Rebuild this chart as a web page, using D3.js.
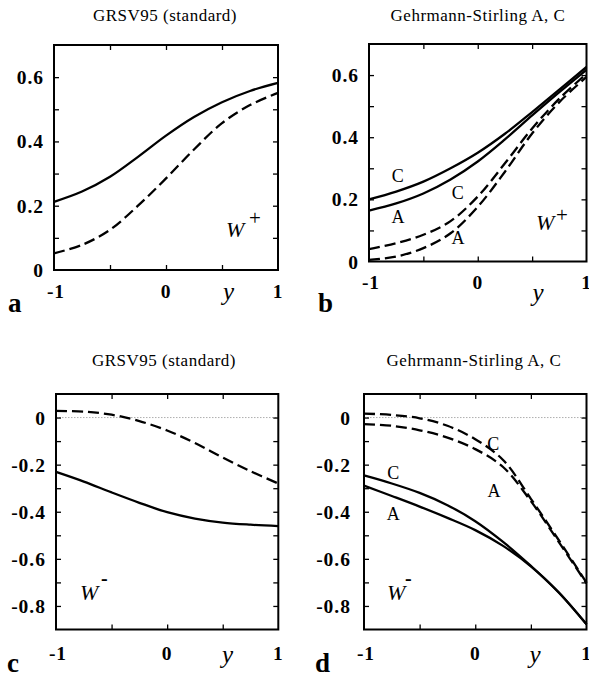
<!DOCTYPE html>
<html>
<head>
<meta charset="utf-8">
<script src="https://cdn.jsdelivr.net/npm/d3@7"></script>
<style>
  html, body { margin: 0; padding: 0; background: #fff; }
  svg { display: block; }
</style>
</head>
<body>
<svg id="chart" width="589" height="677"></svg>
<script>
// ---------------- data ----------------
const yValues = [-1, -0.75, -0.5, -0.25, 0, 0.25, 0.5, 0.75, 1];

// panel a : GRSV95 (standard), W+
const aSolid  = [0.212, 0.244, 0.290, 0.352, 0.418, 0.476, 0.522, 0.557, 0.582];
const aDashed = [0.052, 0.078, 0.125, 0.200, 0.285, 0.375, 0.457, 0.513, 0.551];

// panel b : Gehrmann-Stirling A, C, W+
const bSolidC  = [0.200, 0.225, 0.257, 0.300, 0.350, 0.411, 0.481, 0.553, 0.626];
const bSolidA  = [0.164, 0.187, 0.219, 0.264, 0.322, 0.393, 0.470, 0.545, 0.617];
const bDashedC = [0.040, 0.059, 0.086, 0.130, 0.209, 0.316, 0.428, 0.524, 0.604];
const bDashedA = [0.005, 0.016, 0.043, 0.091, 0.176, 0.289, 0.412, 0.513, 0.594];

// panel c : GRSV95 (standard), W-
const cSolid  = [-0.231, -0.272, -0.318, -0.362, -0.402, -0.429, -0.446, -0.455, -0.461];
const cDashed = [0.028, 0.025, 0.012, -0.015, -0.055, -0.108, -0.170, -0.228, -0.280];

// panel d : Gehrmann-Stirling A, C, W-
const dDashedC = [0.017, 0.011, -0.003, -0.035, -0.092, -0.180, -0.345, -0.520, -0.701];
const dDashedA = [-0.028, -0.035, -0.054, -0.085, -0.134, -0.210, -0.355, -0.528, -0.704];
const dSolidC  = [-0.246, -0.280, -0.320, -0.372, -0.440, -0.528, -0.630, -0.742, -0.878];
const dSolidA  = [-0.289, -0.333, -0.378, -0.426, -0.478, -0.545, -0.632, -0.743, -0.878];

const titles = ["GRSV95 (standard)", "Gehrmann-Stirling A, C", "GRSV95 (standard)", "Gehrmann-Stirling A, C"];
const panelLetters = ["a", "b", "c", "d"];
const xTickLabels = [-1, 0, 1];
const yTickLabelsPlus = [0, 0.2, 0.4, 0.6];
const yTickLabelsMinus = [0, -0.2, -0.4, -0.6, -0.8];

// ---------------- layout ----------------
const panels = [
  { title: titles[0], letter: panelLetters[0], x0: 54, x1: 278, y0: 45, y1: 270, ydom: [0, 0.7],
    yTicks: d3.range(0, 7.5).map(i => i / 10), yLabels: yTickLabelsPlus,
    titleY: 20.5, titleX: 165, xLabY: 298, yVarX: 228.5, yVarY: 300, letterX: 8, letterY: 312, yLabGap: 10,
    series: [{ v: aSolid }, { v: aDashed, dash: true }],
    boson: { x: 226, y: 237, sup: "+", supX: 249, supY: 225 },
    tags: [] },
  { title: titles[1], letter: panelLetters[1], x0: 369, x1: 586.5, y0: 44, y1: 261.5, ydom: [0, 0.7],
    yTicks: d3.range(0, 7.5).map(i => i / 10), yLabels: yTickLabelsPlus,
    titleY: 20.5, titleX: 478, xLabY: 289, yVarX: 538, yVarY: 301, letterX: 318, letterY: 312, yLabGap: 10,
    series: [{ v: bSolidC }, { v: bSolidA }, { v: bDashedC, dash: true }, { v: bDashedA, dash: true }],
    boson: { x: 536, y: 230, sup: "+", supX: 556, supY: 222 },
    tags: [{ t: "C", x: 397.7, y: 181.5 }, { t: "A", x: 398, y: 222.5 }, { t: "C", x: 457.7, y: 199 }, { t: "A", x: 458, y: 244 }] },
  { title: titles[2], letter: panelLetters[2], x0: 56, x1: 278.3, y0: 394, y1: 629.5, ydom: [-0.9, 0.1],
    yTicks: d3.range(-9, 1.5).map(i => i / 10), yLabels: yTickLabelsMinus,
    titleY: 366, titleX: 164, xLabY: 660, yVarX: 227.5, yVarY: 663, letterX: 7, letterY: 672, yLabGap: 10,
    series: [{ v: cSolid }, { v: cDashed, dash: true }],
    boson: { x: 80, y: 600, sup: "-", supX: 101, supY: 585 }, zero: true,
    tags: [] },
  { title: titles[3], letter: panelLetters[3], x0: 364, x1: 586.5, y0: 394, y1: 629.5, ydom: [-0.9, 0.1],
    yTicks: d3.range(-9, 1.5).map(i => i / 10), yLabels: yTickLabelsMinus,
    titleY: 366, titleX: 474, xLabY: 660, yVarX: 535, yVarY: 663, letterX: 315, letterY: 672, yLabGap: 13,
    series: [{ v: dDashedC, dash: true }, { v: dDashedA, dash: true }, { v: dSolidC }, { v: dSolidA }],
    boson: { x: 387, y: 600, sup: "-", supX: 405, supY: 585 }, zero: true,
    tags: [{ t: "C", x: 393.3, y: 478.5 }, { t: "A", x: 393.3, y: 520 }, { t: "C", x: 493.3, y: 450 }, { t: "A", x: 494, y: 496.5 }] }
];

const svg = d3.select("#chart");
const fmt = v => (Math.abs(v) < 1e-9 ? "0" : String(+v.toFixed(1)).replace("\u2212", "-"));
const serif = "'Liberation Serif', 'Times New Roman', Times, serif";

panels.forEach(p => {
  const g = svg.append("g");
  const x = d3.scaleLinear().domain([-1, 1]).range([p.x0, p.x1]);
  const y = d3.scaleLinear().domain(p.ydom).range([p.y1, p.y0]);
  const tl = 5;

  // zero line
  if (p.zero) {
    g.append("line")
      .attr("x1", p.x0).attr("x2", p.x1).attr("y1", y(0)).attr("y2", y(0))
      .attr("stroke", "#999").attr("stroke-width", 0.8).attr("stroke-dasharray", "1.5,1.5");
  }

  // curves
  const line = d3.line().x((d, i) => x(yValues[i])).y(d => y(d)).curve(d3.curveCatmullRom.alpha(0.5));
  p.series.forEach(s => {
    g.append("path").attr("d", line(s.v))
      .attr("fill", "none").attr("stroke", "#000").attr("stroke-width", 2.3)
      .attr("stroke-dasharray", s.dash ? "11,5" : null);
  });

  // axes ticks (inward) via d3 axes
  const xTicks = [-0.5, 0, 0.5];
  g.append("g").attr("transform", `translate(0,${p.y1})`)
    .call(d3.axisBottom(x).tickValues(xTicks).tickSize(-tl).tickFormat(""))
    .call(a => a.select(".domain").remove());
  g.append("g").attr("transform", `translate(0,${p.y0})`)
    .call(d3.axisTop(x).tickValues(xTicks).tickSize(-tl).tickFormat(""))
    .call(a => a.select(".domain").remove());
  const inner = p.yTicks.filter(v => v > p.ydom[0] + 1e-6 && v < p.ydom[1] - 1e-6);
  g.append("g").attr("transform", `translate(${p.x0},0)`)
    .call(d3.axisLeft(y).tickValues(inner).tickSize(-tl).tickFormat(""))
    .call(a => a.select(".domain").remove());
  g.append("g").attr("transform", `translate(${p.x1},0)`)
    .call(d3.axisRight(y).tickValues(inner).tickSize(-tl).tickFormat(""))
    .call(a => a.select(".domain").remove());
  g.selectAll(".tick line").attr("stroke", "#000").attr("stroke-width", 1.3);

  // frame
  g.append("rect").attr("x", p.x0).attr("y", p.y0)
    .attr("width", p.x1 - p.x0).attr("height", p.y1 - p.y0)
    .attr("fill", "none").attr("stroke", "#000").attr("stroke-width", 2);

  // y tick labels
  p.yLabels.forEach(v => {
    g.append("text").attr("x", p.x0 - p.yLabGap).attr("y", y(v) + 7)
      .attr("text-anchor", "end").attr("font-family", serif).attr("font-weight", "bold")
      .attr("font-size", 19.5).attr("letter-spacing", 1).text(fmt(v));
  });
  // x tick labels
  xTickLabels.forEach(v => {
    g.append("text").attr("x", x(v) + (v < 0 ? 2 : 0)).attr("y", p.xLabY)
      .attr("text-anchor", "middle").attr("font-family", serif).attr("font-weight", "bold")
      .attr("font-size", 19.5).attr("letter-spacing", 1).text(fmt(v));
  });
  // variable y
  g.append("text").attr("x", p.yVarX).attr("y", p.yVarY).attr("text-anchor", "middle")
    .attr("font-family", serif).attr("font-style", "italic").attr("font-size", 25).text("y");

  // title
  g.append("text").attr("x", p.titleX).attr("y", p.titleY).attr("text-anchor", "middle")
    .attr("font-family", serif).attr("font-size", 17).attr("letter-spacing", 0.5).text(p.title);

  // panel letter
  g.append("text").attr("x", p.letterX).attr("y", p.letterY)
    .attr("font-family", serif).attr("font-weight", "bold").attr("font-size", 27).text(p.letter);

  // boson label
  g.append("text").attr("x", p.boson.x).attr("y", p.boson.y)
    .attr("font-family", serif).attr("font-style", "italic").attr("font-size", 22).text("W");
  g.append("text").attr("x", p.boson.supX).attr("y", p.boson.supY)
    .attr("font-family", serif).attr("font-weight", p.boson.sup === "-" ? "bold" : "normal")
    .attr("font-size", p.boson.sup === "-" ? 20 : 21).text(p.boson.sup);

  // curve tags
  p.tags.forEach(t => {
    g.append("text").attr("x", t.x).attr("y", t.y).attr("text-anchor", "middle")
      .attr("font-family", serif).attr("font-size", 18).text(t.t);
  });
});
</script>
</body>
</html>
